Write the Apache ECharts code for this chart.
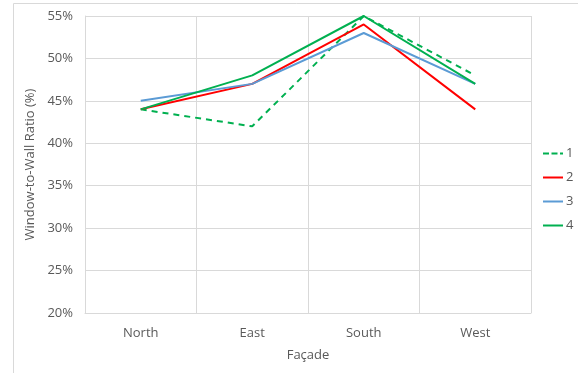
<!DOCTYPE html>
<html>
<head>
<meta charset="utf-8">
<script src="https://cdn.jsdelivr.net/npm/echarts@6/dist/echarts.min.js"></script>
<style>
  html, body { margin: 0; padding: 0; background: #fff; }
  #chart { width: 578px; height: 373px; }
</style>
</head>
<body>
<div id="chart"></div>
<script>
// Window-to-wall ratio per façade for four design variants
const facades = ['North', 'East', 'South', 'West'];
const variant1 = [44, 42, 55, 48];
const variant2 = [44, 47, 54, 44];
const variant3 = [45, 47, 53, 47];
const variant4 = [44, 48, 55, 47];
const seriesNames = ['1', '2', '3', '4'];

const font = '"Open Sans", "Liberation Sans", sans-serif';
const textGray = '#595959';
const gridGray = '#d9d9d9';

// Legend swatches: a plain stroke, and a dashed one for the first variant
const solidIcon = 'path://M0,0 L20,0 L20,2 L0,2 Z';
const dashedIcon = 'path://M0,0 L6,0 L6,2 L0,2 Z M8.5,0 L14.5,0 L14.5,2 L8.5,2 Z M17,0 L20,0 L20,2 L17,2 Z';

function lineSeries(name, data, color, type) {
  return {
    name: name,
    type: 'line',
    data: data,
    symbol: 'none',
    lineStyle: { color: color, width: 2, type: type },
    itemStyle: { color: color }
  };
}

const chart = echarts.init(document.getElementById('chart'));
chart.setOption({
  animation: false,
  textStyle: { fontFamily: font },
  graphic: [{
    type: 'rect',
    shape: { x: 13.5, y: 3.5, width: 700, height: 500 },
    style: { fill: 'none', stroke: gridGray, lineWidth: 1 },
    silent: true,
    z: -1
  }],
  grid: { left: 85, right: 47, top: 16, bottom: 60 },
  legend: {
    orient: 'vertical',
    left: 543,
    top: 147,
    padding: 0,
    itemWidth: 20,
    itemHeight: 2,
    itemGap: 11,
    textStyle: { color: textGray, fontSize: 13, fontFamily: font, padding: [0, 0, 0, -2] },
    data: [
      { name: seriesNames[0], icon: dashedIcon, itemStyle: { color: '#00B050' } },
      { name: seriesNames[1], icon: solidIcon, itemStyle: { color: '#FF0000' } },
      { name: seriesNames[2], icon: solidIcon, itemStyle: { color: '#5B9BD5' } },
      { name: seriesNames[3], icon: solidIcon, itemStyle: { color: '#00B050' } }
    ]
  },
  xAxis: {
    type: 'category',
    data: facades,
    boundaryGap: true,
    name: 'Façade',
    nameLocation: 'middle',
    nameGap: 36,
    nameTextStyle: { color: textGray, fontSize: 13, fontFamily: font },
    axisLine: { show: true, lineStyle: { color: gridGray } },
    axisTick: { show: false },
    axisLabel: { color: textGray, fontSize: 13, margin: 14, fontFamily: font },
    splitLine: { show: true, interval: 0, lineStyle: { color: gridGray } }
  },
  yAxis: {
    type: 'value',
    min: 20,
    max: 55,
    interval: 5,
    name: 'Window-to-Wall Ratio (%)',
    nameLocation: 'middle',
    nameGap: 37,
    nameTextStyle: { color: textGray, fontSize: 13, fontFamily: font },
    axisLine: { show: true, lineStyle: { color: gridGray } },
    axisTick: { show: false },
    axisLabel: { color: textGray, fontSize: 13, margin: 12, formatter: '{value}%', fontFamily: font },
    splitLine: { show: true, lineStyle: { color: gridGray } }
  },
  series: [
    lineSeries('1', variant1, '#00B050', [6, 5]),
    lineSeries('2', variant2, '#FF0000', 'solid'),
    lineSeries('3', variant3, '#5B9BD5', 'solid'),
    lineSeries('4', variant4, '#00B050', 'solid')
  ]
});
</script>
</body>
</html>
